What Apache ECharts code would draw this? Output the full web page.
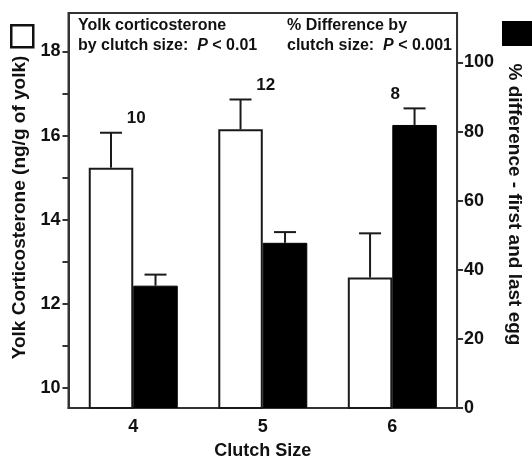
<!DOCTYPE html>
<html>
<head>
<meta charset="utf-8">
<script src="https://cdn.jsdelivr.net/npm/echarts@6/dist/echarts.min.js"></script>
<style>
html,body{margin:0;padding:0;background:#fff;}
#chart{width:532px;height:465px;}
</style>
</head>
<body>
<div id="chart"></div>
<script>
// ---- data ----
var categories = ['4', '5', '6'];
var corticoMean = [15.24, 16.15, 12.63];
var corticoSE = [0.83, 0.71, 1.05];
var diffMean = [35.4, 47.8, 81.9];
var diffSE = [3.2, 3.1, 4.8];
var sampleN = ['10', '12', '8'];
var leftTickLabels = [10, 12, 14, 16, 18];
var leftTickMarks = [10, 11, 12, 13, 14, 15, 16, 17, 18];
var rightTickLabels = [0, 20, 40, 60, 80, 100];

// ---- axis ranges ----
var LMIN = 9.53, LMAX = 18.915;
var RMIN = 0, RMAX = 114.3;
var FONT = '"Liberation Sans", Arial, Helvetica, sans-serif';
var BW = 44.5;
var INK = '#1a1a1a';

var chart = echarts.init(document.getElementById('chart'), null, {renderer: 'canvas'});

function errRender(dx) {
  return function (params, api) {
    var i = api.value(0), m = api.value(1), s = api.value(2);
    var base = api.coord([i, m]);
    var top = api.coord([i, m + s]);
    var x = base[0] + dx;
    var st = {stroke: INK, lineWidth: 2};
    return {
      type: 'group',
      children: [
        {type: 'line', shape: {x1: x, y1: base[1], x2: x, y2: top[1]}, style: st},
        {type: 'line', shape: {x1: x - 11, y1: top[1], x2: x + 11, y2: top[1]}, style: st}
      ]
    };
  };
}

var corticoErrData = categories.map(function (c, i) { return [i, corticoMean[i], corticoSE[i]]; });
var diffErrData = categories.map(function (c, i) { return [i, diffMean[i], diffSE[i]]; });
// highest cap of each group, expressed in left-axis units
var nLabelData = categories.map(function (c, i) {
  var wTop = corticoMean[i] + corticoSE[i];
  var bTop = diffMean[i] + diffSE[i];
  var bTopL = LMIN + (bTop - RMIN) / (RMAX - RMIN) * (LMAX - LMIN);
  return [i, Math.max(wTop, bTopL), sampleN[i]];
});

var option = {
  animation: false,
  backgroundColor: '#fff',
  textStyle: {fontFamily: FONT},
  grid: {
    left: 68.5, right: 63.7, top: 13, bottom: 55,
    show: true, borderColor: '#333', borderWidth: 2, backgroundColor: 'transparent'
  },
  legend: [
    {
      left: 10, top: 24, padding: 0, itemWidth: 22, itemHeight: 22, itemGap: 0, icon: 'rect',
      data: ['Yolk corticosterone'], formatter: function () { return ''; },
      itemStyle: {color: '#fff', borderColor: '#111', borderWidth: 2.5},
      selectedMode: false, textStyle: {fontSize: 1}
    },
    {
      left: 502, top: 21, padding: 0, itemWidth: 31, itemHeight: 25, itemGap: 0, icon: 'rect',
      data: ['% Difference'], formatter: function () { return ''; },
      itemStyle: {color: '#000', borderWidth: 0},
      selectedMode: false, textStyle: {fontSize: 1}
    }
  ],
  graphic: [
    {
      type: 'text', left: 78, top: 16, silent: true,
      style: {
        text: 'Yolk corticosterone\n{n|by clutch size:  }{i|P}{n| < 0.01}',
        font: 'bold 16px ' + FONT, fill: '#111', lineHeight: 20,
        rich: {
          n: {font: 'bold 16px ' + FONT, fill: '#111', lineHeight: 20},
          i: {font: 'italic bold 16px ' + FONT, fill: '#111', lineHeight: 20}
        }
      }
    },
    {
      type: 'text', left: 287, top: 16, silent: true,
      style: {
        text: '% Difference by\n{n|clutch size:  }{i|P}{n| < 0.001}',
        font: 'bold 16px ' + FONT, fill: '#111', lineHeight: 20,
        rich: {
          n: {font: 'bold 16px ' + FONT, fill: '#111', lineHeight: 20},
          i: {font: 'italic bold 16px ' + FONT, fill: '#111', lineHeight: 20}
        }
      }
    }
  ],
  xAxis: {
    type: 'category',
    data: categories,
    name: 'Clutch Size',
    nameLocation: 'middle',
    nameGap: 34,
    nameTextStyle: {fontSize: 18, fontWeight: 'bold', color: '#111', fontFamily: FONT},
    axisLine: {lineStyle: {color: '#333', width: 2}},
    axisTick: {show: false},
    axisLabel: {fontSize: 18, fontWeight: 'bold', color: '#111', margin: 10, fontFamily: FONT},
    splitLine: {show: false}
  },
  yAxis: [
    {
      type: 'value', position: 'left', min: LMIN, max: LMAX,
      name: 'Yolk Corticosterone (ng/g of yolk)',
      nameLocation: 'middle', nameGap: 38,
      nameTextStyle: {fontSize: 19, fontWeight: 'bold', color: '#111', fontFamily: FONT, padding: [0, 0, 0, 6]},
      axisLine: {show: true, lineStyle: {color: '#333', width: 2}},
      axisTick: {show: true, length: 6, customValues: leftTickMarks, lineStyle: {color: '#333', width: 2}},
      axisLabel: {fontSize: 18, fontWeight: 'bold', color: '#111', margin: 8, customValues: leftTickLabels, fontFamily: FONT},
      splitLine: {show: false}
    },
    {
      type: 'value', position: 'right', min: RMIN, max: RMAX,
      name: '% difference - first and last egg',
      nameLocation: 'middle', nameGap: 44, nameRotate: -90,
      nameTextStyle: {fontSize: 19, fontWeight: 'bold', color: '#111', fontFamily: FONT, padding: [0, 12, 0, 0]},
      axisLine: {show: true, lineStyle: {color: '#333', width: 2}},
      axisTick: {show: true, length: 6, customValues: rightTickLabels, lineStyle: {color: '#333', width: 2}},
      axisLabel: {fontSize: 18, fontWeight: 'bold', color: '#111', margin: 7, customValues: rightTickLabels, fontFamily: FONT},
      splitLine: {show: false}
    }
  ],
  series: [
    {
      name: 'Yolk corticosterone', type: 'bar', yAxisIndex: 0,
      data: corticoMean, barWidth: BW, barGap: '0%',
      itemStyle: {color: '#fff', borderColor: INK, borderWidth: 2}
    },
    {
      name: '% Difference', type: 'bar', yAxisIndex: 1,
      data: diffMean, barWidth: BW, barGap: '0%',
      itemStyle: {color: '#000', borderColor: '#000', borderWidth: 1}
    },
    {
      type: 'custom', yAxisIndex: 0, z: 5,
      data: corticoErrData, encode: {x: 0, y: 1},
      renderItem: errRender(-BW / 2)
    },
    {
      type: 'custom', yAxisIndex: 1, z: 5,
      data: diffErrData, encode: {x: 0, y: 1},
      renderItem: errRender(BW / 2)
    },
    {
      type: 'custom', yAxisIndex: 0, z: 6,
      data: nLabelData, encode: {x: 0, y: 1},
      renderItem: function (params, api) {
        var p = api.coord([api.value(0), api.value(1)]);
        return {
          type: 'text',
          x: p[0] + 3, y: p[1] - 14,
          style: {
            text: sampleN[params.dataIndex],
            font: 'bold 17px ' + FONT, fill: '#111',
            textAlign: 'center', textVerticalAlign: 'middle'
          }
        };
      }
    }
  ]
};
chart.setOption(option);
</script>
</body>
</html>
